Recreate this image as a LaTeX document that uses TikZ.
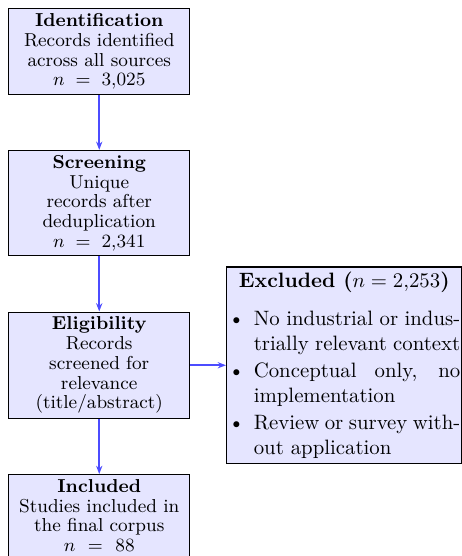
\documentclass[tikz,border=0pt]{standalone}
\usepackage{amsmath}
\usepackage{enumitem}
\usepackage{tikz}
\usetikzlibrary{arrows.meta,positioning}

\begin{document}
\begin{tikzpicture}[
        stage/.style={rectangle, draw, semithick, fill=blue!10, text width=2.9cm, inner sep=2.3pt, align=center, font=\fontsize{9}{9.5}\selectfont},
        exclbox/.style={rectangle, draw, semithick, fill=blue!10, text width=3.92cm, inner xsep=0.8pt, inner ysep=2.5pt, align=justify},
        flow/.style={draw=blue!70, thick, -{Stealth[length=4pt]}},
    ]

    \useasboundingbox (0,0) rectangle (222.1pt,-267.3pt);

    % === MAIN STAGES ===
    \node[stage, anchor=north west] (ident) at (3.85pt,-3.85pt) {\textbf{Identification}\\ Records identified\\ across all sources\\ $n = 3{,}025$};

    \node[stage, below=9.3mm of ident] (screen) {\textbf{Screening}\\ Unique\\ records after\\ deduplication\\ $n = 2{,}341$};

    \node[stage, below=9.3mm of screen] (elig) {\textbf{Eligibility}\\ Records\\ screened for\\ relevance\\ (title/abstract)};

    \node[stage, below=9.3mm of elig] (incl) {\textbf{Included}\\ Studies included in\\ the final corpus\\ $n = 88$};

    % === EXCLUSIONS ===
    \node[exclbox, right=6mm of elig] (excl) {{\centering\textbf{Excluded ($n = 2{,}253$)}\par}\vspace{6pt}\begin{itemize}[leftmargin=*, labelsep=4.5pt, nosep, itemsep=1pt]
            \item No industrial or indus\-trially relevant context
            \item Conceptual only, no implementation
            \item Review or survey with\-out application
        \end{itemize}};

    \draw[flow] (ident) -- (screen);
    \draw[flow] (screen) -- (elig);
    \draw[flow] (elig) -- (incl);
    \draw[flow] (elig) -- (excl);

\end{tikzpicture}
\end{document}
